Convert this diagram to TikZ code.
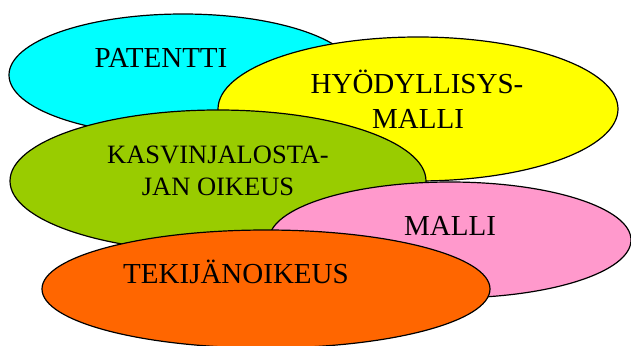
\documentclass[tikz,border=0pt]{standalone}
\usepackage{fontspec}
\setmainfont{Liberation Serif}
\usetikzlibrary{shapes.geometric}

\definecolor{patcyan}{HTML}{00FFFF}
\definecolor{hyoyellow}{HTML}{FFFF00}
\definecolor{kasgreen}{HTML}{99CC00}
\definecolor{malpink}{HTML}{FF99CC}
\definecolor{tekorange}{HTML}{FF6600}

\begin{document}
\begin{tikzpicture}[
    x=1pt, y=-1pt,
    oval/.style={ellipse, draw=black, line width=1.2pt, inner sep=0pt},
    every node/.style={font=\fontsize{29}{29}\selectfont},
    word/.style={anchor=base}
]

\useasboundingbox (0,0) rectangle (631,345);

% Ellipses, back to front
\node[oval, fill=patcyan,    minimum width=348pt, minimum height=122pt] (pat) at (183,75)  {};
\node[oval, fill=hyoyellow,  minimum width=400pt, minimum height=144pt] (hyo) at (418,109) {};
\node[oval, fill=kasgreen,   minimum width=416pt, minimum height=142pt] (kas) at (218,181) {};
\node[oval, fill=malpink,    minimum width=362pt, minimum height=116pt] (mal) at (450,240) {};
\node[oval, fill=tekorange,  minimum width=448pt, minimum height=118pt] (tek) at (266,289) {};

% Labels
\node[word] (patA) at (161,67)  {PATENTTI};
\node[word] (hyoA) at (417,93)  {HYÖDYLLISYS-};
\node[word] (hyoB) at (418,128) {MALLI};
\node[word, font=\fontsize{26.5}{26.5}\selectfont] (kasA) at (218,163) {KASVINJALOSTA-};
\node[word, font=\fontsize{26.5}{26.5}\selectfont] (kasB) at (218,195) {JAN OIKEUS};
\node[word] (malA) at (450,235) {MALLI};
\node[word] (tekA) at (236,283) {TEKIJÄNOIKEUS};

\end{tikzpicture}
\end{document}
